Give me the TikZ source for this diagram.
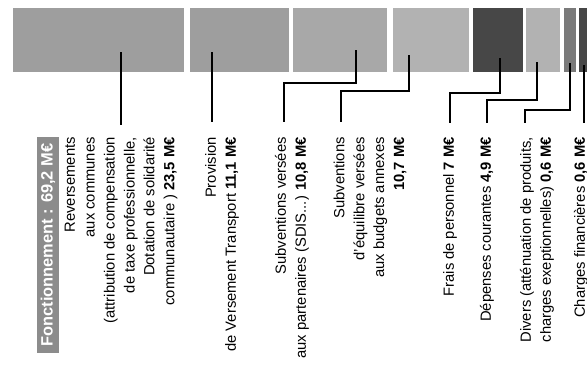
\documentclass[tikz,border=0pt]{standalone}
\usepackage{fontspec}
\setmainfont{Liberation Sans}
\definecolor{barmid}{gray}{0.62}
\definecolor{barlight}{gray}{0.70}
\definecolor{bardark}{gray}{0.28}
\definecolor{barsmall}{gray}{0.48}
\definecolor{titlegray}{gray}{0.55}
\tikzset{
    bar/.style={inner sep=0pt, minimum height=1.92cm, anchor=north west},
    leader/.style={line width=1.1pt},
    lbl/.style={rotate=90, anchor=east, align=right, inner sep=0pt,
        font=\fontsize{12.6}{17}\selectfont}
}

\begin{document}
\begin{tikzpicture}
  \useasboundingbox (0cm, 0cm) rectangle (17.61cm, 11.13cm);

  % bars
  \node (b1) [bar, fill=barmid, minimum width=5.13cm] at (0.39cm, 10.89cm) {};
  \node (b2) [bar, fill=barmid, minimum width=2.97cm] at (5.70cm, 10.89cm) {};
  \node (b3) [bar, fill=barmid!90, minimum width=2.82cm] at (8.79cm, 10.89cm) {};
  \node (b4) [bar, fill=barlight, minimum width=2.28cm] at (11.79cm, 10.89cm) {};
  \node (b5) [bar, fill=bardark, minimum width=1.50cm] at (14.19cm, 10.89cm) {};
  \node (b6) [bar, fill=barlight, minimum width=1.02cm] at (15.78cm, 10.89cm) {};
  \node (b7) [bar, fill=barsmall, minimum width=0.36cm] at (16.92cm, 10.89cm) {};
  \node (b8) [bar, fill=bardark, minimum width=0.30cm] at (17.37cm, 10.89cm) {};

  % title
  \node (title) [rotate=90, fill=titlegray, text=white, inner sep=0pt,
    minimum width=6.48cm, minimum height=0.66cm,
    font=\fontsize{14}{17}\selectfont\bfseries] at (1.44cm, 3.78cm)
    {Fonctionnement : 69,2 M€};

  % labels
  \node (l1) [lbl] at (3.63cm, 7.02cm) {Reversements\\aux communes\\(attribution de compensation\\de taxe professionnelle,\\Dotation de solidarité\\communautaire ) \textbf{23,5 M€}};
  \node (l2) [lbl] at (6.66cm, 7.02cm) {Provision\\de Versement Transport \textbf{11,1 M€}};
  \node (l3) [lbl] at (8.76cm, 7.02cm) {Subventions versées\\aux partenaires (SDIS...) \textbf{10,8 M€}};
  \node (l4) [lbl] at (11.10cm, 7.02cm) {Subventions\\d'équilibre versées\\aux budgets annexes\\\textbf{10,7 M€}};
  \node (l5) [lbl] at (13.50cm, 7.02cm) {Frais de personnel \textbf{7 M€}};
  \node (l6) [lbl] at (14.61cm, 7.02cm) {Dépenses courantes \textbf{4,9 M€}};
  \node (l7) [lbl] at (16.11cm, 7.02cm) {Divers (atténuation de produits,\\charges exeptionnelles) \textbf{0,6 M€}};
  \node (l8) [lbl] at (17.43cm, 7.02cm) {Charges financières \textbf{0,6 M€}};

  % leader ends
  \coordinate (p1) at (3.63cm, 9.57cm);  \coordinate (q1) at (3.63cm, 7.38cm);
  \coordinate (p2) at (6.36cm, 9.57cm);  \coordinate (q2) at (6.36cm, 7.47cm);
  \coordinate (p3) at (10.68cm, 9.63cm); \coordinate (q3) at (8.52cm, 7.47cm);
  \coordinate (p4) at (12.27cm, 9.48cm); \coordinate (q4) at (10.23cm, 7.47cm);
  \coordinate (p5) at (15.00cm, 9.39cm); \coordinate (q5) at (13.50cm, 7.44cm);
  \coordinate (p6) at (16.11cm, 9.27cm); \coordinate (q6) at (14.61cm, 7.44cm);
  \coordinate (p7) at (17.10cm, 9.24cm); \coordinate (q7) at (15.75cm, 7.44cm);
  \coordinate (p8) at (17.52cm, 9.18cm); \coordinate (q8) at (17.52cm, 7.44cm);

  \draw [leader] (p1) -- (q1); \draw [leader] (p2) -- (q2);
  \draw [leader] (p3) -- ++(0cm, -0.99cm) -| (q3);
  \draw [leader] (p4) -- ++(0cm, -1.08cm) -| (q4);
  \draw [leader] (p5) -- ++(0cm, -1.05cm) -| (q5);
  \draw [leader] (p6) -- ++(0cm, -1.14cm) -| (q6);
  \draw [leader] (p7) -- ++(0cm, -1.41cm) -| (q7);
  \draw [leader] (p8) -- (q8);

\end{tikzpicture}
\end{document}
